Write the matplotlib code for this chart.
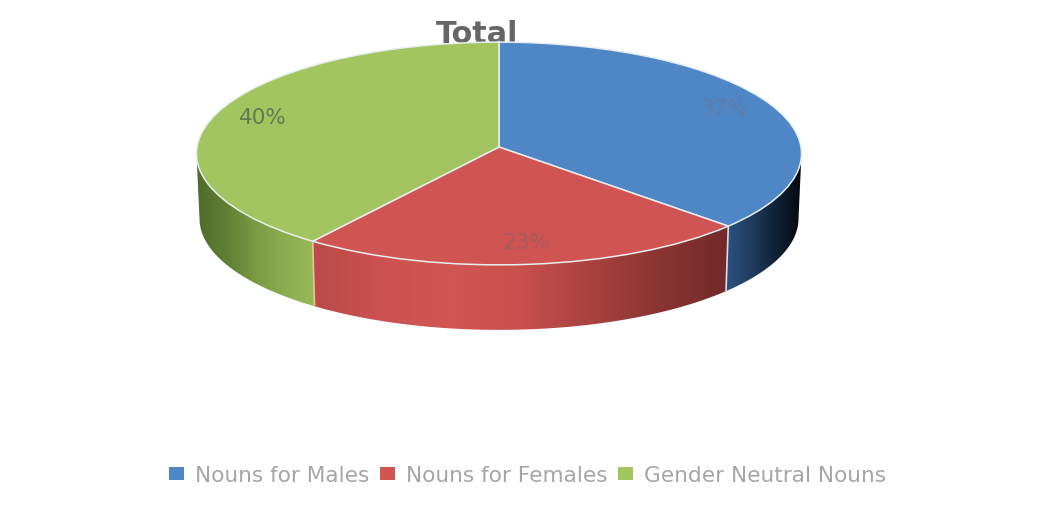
import numpy as np
import matplotlib
matplotlib.use('Agg')
import matplotlib.pyplot as plt
from matplotlib.colors import LinearSegmentedColormap
from matplotlib.patches import Polygon
from matplotlib.transforms import Transform

# данные
categories = ['Nouns for Males', 'Nouns for Females', 'Gender Neutral Nouns']
values = [37, 23, 40]
colors = ['#4f86c6', '#cf5452', '#a3c55f']

# геометрия диска в пикселях картинки
cx, cy = 499, 148
rx, ry = 302, 111
k = 0.0583
depth = 65


class DiskTransform(Transform):
    # единичный круг -> диск с лёгкой перспективой (пиксели картинки)
    input_dims = 2
    output_dims = 2

    def transform_non_affine(self, values):
        v = np.asarray(values, dtype=float)
        d = 1 + k * v[:, 1]
        return np.column_stack([cx + rx * v[:, 0] / d, cy - ry * v[:, 1] / d])


def rim(angles, shift=0.0, scale=1.0):
    t = np.radians(angles)
    pts = DiskTransform().transform_non_affine(np.column_stack([np.cos(t), np.sin(t)]))
    pts[:, 0] = cx + (pts[:, 0] - cx) * scale
    pts[:, 1] += shift
    return pts


def neg(a):
    # угол среза в диапазоне (-360, 0]
    return a - 360 if a > 0 else a


fig = plt.figure(figsize=(10.37, 5.06), dpi=100)
ax = fig.add_axes([0, 0, 1, 1])

wedges, _, autotexts = ax.pie(values, colors=colors, startangle=90, counterclock=False,
                              autopct='%.0f%%', radius=1,
                              wedgeprops={'edgecolor': '#e8eef0', 'linewidth': 1.1})
ax.set_aspect('auto')
ax.axis('off')

disk = DiskTransform() + ax.transData
for w in wedges:
    w.set_transform(disk)
    w.set_zorder(5)

# боковая стенка: срезы и градиенты
tangent = np.degrees(np.arcsin(k))
w_male, w_female, w_neutral = wedges
sides = [
    (neg(w_male.theta1), -tangent, ['#2c5280', '#1f3c60', '#0f2036', '#04080e']),
    (neg(w_female.theta1), neg(w_female.theta2),
     ['#bb4a48', '#cb5250', '#d25653', '#c94f4d', '#a94240', '#8a3432', '#722a28']),
    (-180 + tangent, neg(w_neutral.theta2), ['#4f6b2b', '#5f7e33', '#7a9a44', '#8cad4f', '#97b957']),
]
for a1, a2, ramp in sides:
    t = np.linspace(a1, a2, 80)
    top = rim(t)
    bottom = rim(t, depth, 0.99)
    outline = np.vstack([top, bottom[::-1]])
    poly = Polygon(outline, closed=True, transform=ax.transData, facecolor='none', edgecolor='none')
    ax.add_patch(poly)
    cmap = LinearSegmentedColormap.from_list('side', ramp)
    im = ax.imshow(np.linspace(0, 1, 256).reshape(1, -1), cmap=cmap, aspect='auto',
                   extent=[outline[:, 0].min(), outline[:, 0].max(),
                           outline[:, 1].max(), outline[:, 1].min()],
                   zorder=2)
    im.set_clip_path(poly)
ax.set_xlim(0, 1037)
ax.set_ylim(506, 0)

# светлые рёбра между срезами на стенке
for a, col in [(neg(w_male.theta1), '#d9dde6'), (neg(w_neutral.theta2), '#e3c79a')]:
    p1 = rim([a])[0]
    p2 = rim([a], depth, 0.99)[0]
    ax.plot([p1[0], p2[0]], [p1[1], p2[1]], color=col, lw=1.2, zorder=3)

# подписи
label_pos = [(724, 109), (526, 243), (263, 118)]
label_colors = ['#5f7da8', '#a65d5d', '#627a52']
for txt, pos, col in zip(autotexts, label_pos, label_colors):
    txt.set_position(pos)
    txt.set_color(col)
    txt.set_fontsize(15.5)
    txt.set_zorder(6)

ax.text(477, 43, 'Total', ha='center', va='baseline', fontsize=21.8, fontweight='bold',
        color='#666666', zorder=1)

leg = ax.legend(wedges, categories, ncols=3, frameon=False, loc='center',
                bbox_to_anchor=(527.5 / 1037, 1 - 476 / 506), fontsize=15.6, labelcolor='#a6a6a6',
                handlelength=0.69, handleheight=0.55, handletextpad=0.5, columnspacing=0.5,
                borderpad=0, borderaxespad=0)
for h in leg.get_patches():
    h.set_edgecolor('none')

plt.savefig('out.png', dpi=100)
